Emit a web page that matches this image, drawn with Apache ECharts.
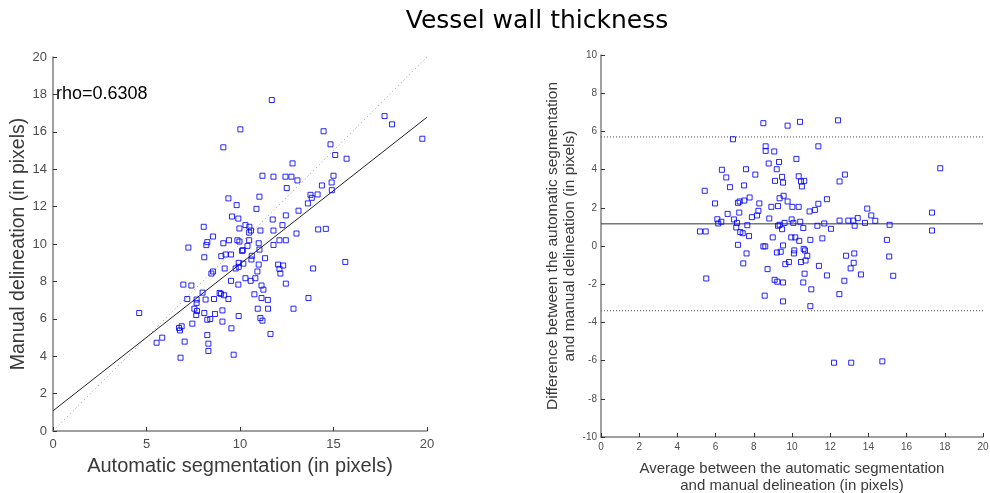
<!DOCTYPE html>
<html>
<head>
<meta charset="utf-8">
<script src="https://cdn.jsdelivr.net/npm/echarts@6/dist/echarts.min.js"></script>
<style>
  html, body { margin: 0; padding: 0; background: #fff; }
  #chart { width: 990px; height: 493px; }
</style>
</head>
<body>
<div id="chart"></div>
<script>
// Left panel: automatic segmentation (x) vs manual delineation (y), pixels
const autoSeg = [
  11.70, 10.02, 9.11, 14.47, 14.84, 15.09, 15.70, 12.81, 11.20, 11.79,
  12.43, 12.75, 13.07, 12.50, 15.00, 14.90, 14.38, 14.91, 13.77, 13.84,
  14.15, 13.63, 13.13, 11.04, 10.88, 9.38, 9.82, 9.57, 9.91, 11.75,
  12.45, 12.27, 8.06, 9.97, 10.29, 10.50, 10.49, 10.59, 11.09, 11.79,
  13.02, 14.18, 14.59, 8.56, 8.25, 8.20, 7.24, 9.11, 9.41, 9.86,
  9.97, 10.49, 10.40, 10.15, 10.11, 11.00, 11.04, 11.79, 12.11, 12.45,
  8.09, 9.00, 9.23, 9.52, 10.63, 10.61, 11.34, 10.18, 9.93, 9.93,
  9.77, 9.18, 11.00, 10.93, 12.04, 12.31, 12.11, 12.16, 13.91, 15.63,
  8.56, 8.47, 6.97, 7.40, 8.00, 8.91, 8.98, 9.15, 7.18, 7.68,
  8.16, 8.61, 9.38, 7.68, 9.52, 9.91, 10.29, 10.57, 10.82, 11.15,
  11.25, 10.77, 11.15, 11.49, 12.45, 13.66, 7.56, 7.70, 7.66, 8.09,
  8.41, 8.25, 8.66, 9.06, 9.06, 9.93, 10.95, 11.50, 12.86, 11.09,
  11.20, 9.54, 11.63, 7.45, 6.74, 6.79, 6.88, 5.84, 5.54, 7.04,
  8.25, 8.31, 8.31, 6.82, 9.66, 4.61, 17.73, 18.13, 19.75
];
const manualDel = [
  17.70, 16.13, 15.17, 16.03, 15.33, 14.76, 14.56, 14.31, 13.65, 13.60,
  13.60, 13.60, 13.40, 12.99, 13.65, 13.29, 13.13, 12.88, 12.63, 12.47,
  12.65, 12.17, 11.78, 12.53, 11.88, 12.44, 12.08, 11.47, 11.36, 11.31,
  11.53, 11.01, 10.92, 10.83, 11.01, 10.92, 10.61, 10.72, 10.72, 10.72,
  10.56, 10.78, 10.81, 10.40, 10.10, 9.94, 9.81, 10.04, 10.20, 10.20,
  10.13, 10.20, 9.90, 9.67, 9.63, 10.04, 9.70, 9.95, 10.20, 10.20,
  9.29, 9.35, 9.44, 9.44, 9.37, 9.17, 9.24, 8.95, 8.99, 8.78,
  8.69, 8.69, 8.90, 8.53, 8.90, 8.85, 8.67, 8.42, 8.69, 9.04,
  8.53, 8.42, 7.83, 7.78, 7.40, 7.38, 7.33, 7.26, 7.06, 7.03,
  7.03, 7.06, 7.06, 6.85, 8.03, 7.83, 8.17, 8.03, 8.17, 7.78,
  7.56, 7.31, 7.11, 7.01, 7.88, 7.11, 6.54, 6.42, 6.20, 6.31,
  5.99, 5.95, 6.26, 6.45, 5.85, 6.15, 6.54, 6.54, 6.54, 6.04,
  5.90, 5.49, 5.19, 5.74, 5.51, 5.38, 5.60, 4.99, 4.72, 4.78,
  5.13, 4.67, 4.28, 3.92, 4.08, 6.31, 16.84, 16.40, 15.63
];
const rhoText = 'rho=0.6308';
// Least-squares fit of manual on automatic
const fitIntercept = 1.08;
const fitSlope = 0.785;

// Right panel: Bland-Altman (mean of the two methods vs their difference)
const baMean = [
  8.50, 9.77, 10.42, 12.41, 6.91, 8.62, 8.62, 9.07, 11.38, 10.23,
  8.78, 9.32, 6.33, 7.59, 9.20, 8.08, 6.56, 9.48, 10.35, 9.11,
  9.53, 10.47, 10.64, 10.52, 12.77, 12.49, 6.75, 7.49, 5.43, 9.56,
  9.35, 9.77, 7.78, 7.50, 7.26, 7.17, 8.29, 5.97, 8.92, 9.27,
  10.02, 10.35, 11.38, 11.83, 11.20, 10.92, 8.24, 7.24, 6.63, 8.17,
  7.90, 6.96, 6.09, 6.30, 6.14, 7.12, 7.66, 7.08, 8.81, 9.98,
  10.43, 10.07, 9.61, 9.35, 9.27, 9.48, 10.59, 11.33, 11.69, 12.04,
  12.49, 12.95, 13.21, 13.44, 13.28, 13.82, 14.15, 13.94, 14.36, 15.11,
  5.18, 5.48, 7.29, 7.42, 7.75, 8.99, 9.96, 10.17, 10.38, 10.96,
  11.59, 14.97, 7.17, 8.50, 8.60, 9.53, 7.62, 9.21, 9.41, 10.12,
  10.61, 10.68, 10.10, 10.80, 10.71, 10.47, 9.84, 9.65, 7.45, 11.41,
  12.83, 13.26, 13.23, 15.09, 8.72, 11.83, 13.07, 13.61, 10.66, 5.51,
  9.09, 9.23, 9.53, 10.59, 12.74, 11.01, 8.57, 12.48, 9.53, 10.96,
  17.76, 17.33, 17.33, 12.20, 13.10, 14.73, 15.30
];
const baDiff = [
  6.43, 6.30, 6.50, 6.58, 5.59, 5.22, 4.98, 4.95, 5.22, 4.56,
  4.32, 4.40, 3.99, 4.02, 4.02, 3.74, 3.59, 3.62, 3.65, 3.41,
  3.32, 3.38, 3.41, 3.12, 3.74, 3.38, 3.08, 3.17, 2.89, 2.63,
  2.50, 2.33, 2.54, 2.38, 2.33, 2.26, 2.23, 2.23, 2.05, 2.09,
  2.05, 2.05, 2.21, 2.45, 1.89, 1.81, 1.84, 1.75, 1.68, 1.60,
  1.51, 1.39, 1.40, 1.27, 1.18, 1.21, 1.09, 0.97, 1.44, 1.39,
  1.27, 1.21, 1.21, 1.11, 1.06, 0.88, 0.94, 1.06, 1.18, 0.90,
  1.33, 1.33, 1.33, 1.46, 1.06, 1.21, 1.60, 1.96, 1.32, 1.11,
  0.76, 0.76, 0.73, 0.67, 0.52, 0.45, 0.45, 0.45, 0.27, 0.32,
  0.40, 0.32, 0.06, -0.02, -0.02, 0.03, -0.39, -0.34, -0.30, -0.23,
  -0.15, -0.23, -0.39, -0.51, -0.76, -0.84, -0.84, -0.95, -0.91, -1.04,
  -0.51, -0.39, -0.88, -0.55, -1.21, -1.54, -1.17, -1.49, -1.45, -1.70,
  -1.77, -1.87, -1.91, -1.91, -1.82, -2.27, -2.60, -2.52, -2.90, -3.15,
  4.07, 1.75, 0.81, -6.11, -6.11, -6.04, -1.56
];
const baBias = 1.16;
const baUpper = 5.71;
const baLower = -3.39;

const leftXTicks = [0, 5, 10, 15, 20];
const leftYTicks = [0, 2, 4, 6, 8, 10, 12, 14, 16, 18, 20];
const rightXTicks = [0, 2, 4, 6, 8, 10, 12, 14, 16, 18, 20];
const rightYTicks = [-10, -8, -6, -4, -2, 0, 2, 4, 6, 8, 10];

const axisGray = '#808080';
const labelGray = '#4d4d4d';
const markerBlue = '#0000ff';
const sansFont = 'Liberation Sans, Arial, sans-serif';

function pairs(xs, ys) { return xs.map((x, i) => [x, ys[i]]); }

function axisBase(ticks, fontSize, margin) {
  return {
    type: 'value',
    min: ticks[0],
    max: ticks[ticks.length - 1],
    interval: ticks[1] - ticks[0],
    splitLine: { show: false },
    axisLine: { show: true, onZero: false, lineStyle: { color: axisGray, width: 1.5 } },
    axisTick: { show: true, inside: true, length: 4, lineStyle: { color: '#333', width: 1 } },
    axisLabel: { color: labelGray, fontSize: fontSize, margin: margin, fontFamily: sansFont }
  };
}

const scatterStyle = {
  type: 'scatter',
  symbol: 'rect',
  symbolSize: 5,
  itemStyle: { color: 'rgba(255,255,255,0)', borderColor: markerBlue, borderWidth: 1, opacity: 0.85 },
  emphasis: { disabled: true },
  z: 5
};

const chart = echarts.init(document.getElementById('chart'), null, { renderer: 'canvas' });

const option = {
  animation: false,
  backgroundColor: '#ffffff',
  title: {
    text: 'Vessel wall thickness',
    left: 532, top: 4, textAlign: 'center',
    textStyle: { fontFamily: 'DejaVu Sans, Verdana, sans-serif', fontSize: 25, fontWeight: 'normal', color: '#000' }
  },
  graphic: [{
    type: 'text', left: 56, top: 85,
    style: { text: rhoText, fontFamily: sansFont, fontSize: 18, fill: '#000' }
  }],
  grid: [
    { left: 53, top: 57, width: 374, height: 374, outerBoundsMode: 'none', containLabel: false },
    { left: 601, top: 55, width: 382, height: 382, outerBoundsMode: 'none', containLabel: false }
  ],
  xAxis: [
    Object.assign(axisBase(leftXTicks, 13, 7), {
      gridIndex: 0, name: 'Automatic segmentation (in pixels)', nameLocation: 'middle', nameGap: 25,
      nameTextStyle: { color: '#3a3a3a', fontSize: 20, fontFamily: sansFont }
    }),
    Object.assign(axisBase(rightXTicks, 10, 5), {
      gridIndex: 1, name: 'Average between the automatic segmentation\nand manual delineation (in pixels)',
      nameLocation: 'middle', nameGap: 23,
      nameTextStyle: { color: '#3a3a3a', fontSize: 15, lineHeight: 17, fontFamily: sansFont }
    })
  ],
  yAxis: [
    Object.assign(axisBase(leftYTicks, 13, 6), {
      gridIndex: 0, name: 'Manual delineation (in pixels)', nameLocation: 'middle', nameGap: 20,
      nameTextStyle: { color: '#3a3a3a', fontSize: 19.5, fontFamily: sansFont }
    }),
    Object.assign(axisBase(rightYTicks, 10, 4), {
      gridIndex: 1, name: 'Difference between the automatic segmentation\nand manual delineation (in pixels)',
      nameLocation: 'middle', nameGap: 20,
      nameTextStyle: { color: '#3a3a3a', fontSize: 15.5, lineHeight: 17, fontFamily: sansFont }
    })
  ],
  series: [
    // identity line
    {
      type: 'line', xAxisIndex: 0, yAxisIndex: 0, symbol: 'none', silent: true,
      data: [[0, 0], [20, 20]],
      lineStyle: { color: '#9a9a9a', width: 1, type: [1, 3] }, z: 2
    },
    // regression line
    {
      type: 'line', xAxisIndex: 0, yAxisIndex: 0, symbol: 'none', silent: true,
      data: [[0, fitIntercept], [20, fitIntercept + fitSlope * 20]],
      lineStyle: { color: '#222', width: 1 }, z: 3
    },
    Object.assign({}, scatterStyle, { xAxisIndex: 0, yAxisIndex: 0, data: pairs(autoSeg, manualDel) }),
    // bias and limits of agreement
    {
      type: 'line', xAxisIndex: 1, yAxisIndex: 1, symbol: 'none', silent: true,
      data: [[0, baBias], [20, baBias]],
      lineStyle: { color: '#333', width: 1 }, z: 3
    },
    {
      type: 'line', xAxisIndex: 1, yAxisIndex: 1, symbol: 'none', silent: true,
      data: [[0, baUpper], [20, baUpper]],
      lineStyle: { color: '#444', width: 1, type: [1, 2] }, z: 3
    },
    {
      type: 'line', xAxisIndex: 1, yAxisIndex: 1, symbol: 'none', silent: true,
      data: [[0, baLower], [20, baLower]],
      lineStyle: { color: '#444', width: 1, type: [1, 2] }, z: 3
    },
    Object.assign({}, scatterStyle, { xAxisIndex: 1, yAxisIndex: 1, data: pairs(baMean, baDiff) })
  ]
};

chart.setOption(option);
</script>
</body>
</html>
